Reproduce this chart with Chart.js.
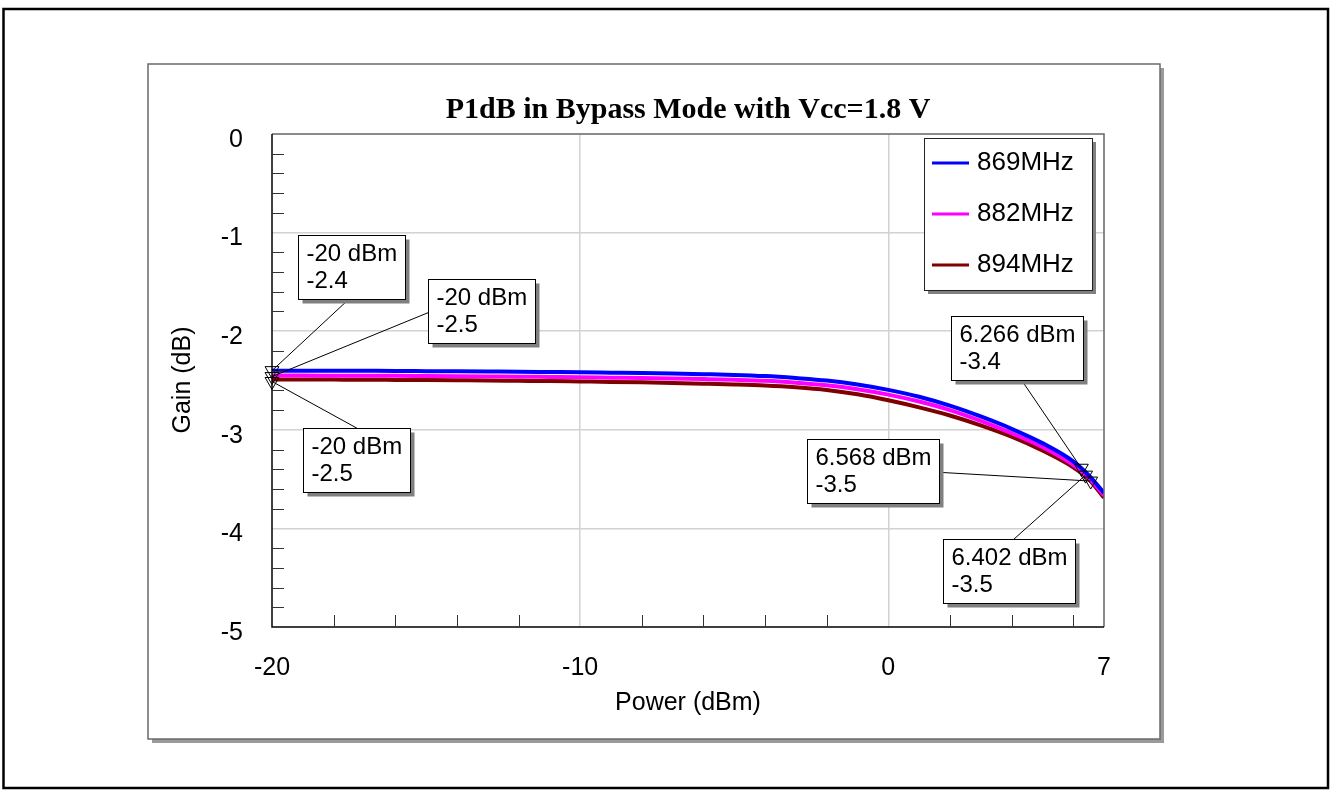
<!DOCTYPE html>
<html>
<head>
<meta charset="utf-8">
<title>P1dB in Bypass Mode with Vcc=1.8 V</title>
<script src="https://cdn.jsdelivr.net/npm/chart.js@4.4.1/dist/chart.umd.min.js"></script>
<style>
    html, body { margin: 0; padding: 0; background: #fff; }
    #gainChart { display: block; }
</style>
</head>
<body>
<canvas id="gainChart" width="1331" height="799"></canvas>
<script>
// Data
const powerDbm = [-20, -19, -18, -17, -16, -15, -14, -13, -12, -11, -10, -9, -8, -7, -6, -5, -4, -3, -2, -1, 0, 1, 2, 3, 4, 5, 6, 6.5, 7];
const gain869 = [-2.400, -2.400, -2.401, -2.402, -2.403, -2.405, -2.407, -2.409, -2.411, -2.414, -2.417, -2.421, -2.425, -2.430, -2.436, -2.443, -2.455, -2.475, -2.500, -2.540, -2.595, -2.665, -2.755, -2.865, -2.990, -3.135, -3.320, -3.460, -3.640];
const gain882 = [-2.450, -2.450, -2.451, -2.452, -2.453, -2.455, -2.457, -2.459, -2.461, -2.464, -2.467, -2.471, -2.475, -2.480, -2.486, -2.493, -2.503, -2.522, -2.548, -2.588, -2.643, -2.713, -2.800, -2.910, -3.035, -3.175, -3.355, -3.485, -3.665];
const gain894 = [-2.490, -2.490, -2.491, -2.492, -2.494, -2.496, -2.498, -2.500, -2.503, -2.506, -2.510, -2.514, -2.519, -2.525, -2.532, -2.540, -2.551, -2.569, -2.596, -2.640, -2.700, -2.772, -2.855, -2.955, -3.070, -3.210, -3.380, -3.500, -3.690];
const seriesLabels = ['869MHz', '882MHz', '894MHz'];
const seriesColors = ['#0000FF', '#FF00FF', '#800000'];

const xTickValues = [-20, -10, 0, 7];
const yTickValues = [-5, -4, -3, -2, -1, 0];

// Marker points (P1dB readouts)
const markerPower = [-20, -20, -20, 6.266, 6.402, 6.568];
const markerGain = [-2.40, -2.46, -2.51, -3.39, -3.46, -3.52];

// Callout box placement relative to each marker (pixels), and leader anchor inside the box
const callouts = [
    { dx: 26, dy: -136, ax: 50, ay: 64 },
    { dx: 156, dy: -98, ax: 0, ay: 33 },
    { dx: 31, dy: 47, ax: 54, ay: 0 },
    { dx: -130, dy: -152, ax: 71, ay: 65 },
    { dx: -143, dy: 64, ax: 70, ay: 0 },
    { dx: -284, dy: -42, ax: 135, ay: 33 }
];

const SANS = 'Arial, "Liberation Sans", sans-serif';
const SERIF = '"Times New Roman", "Liberation Serif", serif';

document.addEventListener('DOMContentLoaded', function() {
    const allGains = [gain869, gain882, gain894];

    const curveSets = allGains.map((g, i) => ({
        label: seriesLabels[i],
        data: powerDbm.map((p, k) => ({ x: p, y: g[k] })),
        borderColor: seriesColors[i],
        borderWidth: 4,
        pointRadius: 0,
        cubicInterpolationMode: 'monotone',
        fill: false,
        order: 1
    }));

    const markerSet = {
        label: 'markers',
        data: markerPower.map((p, k) => ({ x: p, y: markerGain[k] })),
        showLine: false,
        clip: false,
        pointStyle: 'triangle',
        rotation: 180,
        pointRadius: 8,
        pointBorderColor: '#000',
        pointBorderWidth: 1,
        pointBackgroundColor: 'rgba(0,0,0,0)',
        order: 0
    };

    // Frames, titles, borders, minor ticks, legend, callouts
    const decor = {
        id: 'decor',
        beforeDraw(chart) {
            const ctx = chart.ctx;
            const a = chart.chartArea;
            ctx.save();
            ctx.fillStyle = '#fff';
            ctx.fillRect(0, 0, chart.width, chart.height);

            // outer page border
            ctx.strokeStyle = '#000';
            ctx.lineWidth = 2.5;
            ctx.strokeRect(3.5, 9, 1324.5, 779);

            // inner chart box with drop shadow
            ctx.fillStyle = '#9a9a9a';
            ctx.fillRect(152, 68, 1012, 675);
            ctx.fillStyle = '#fff';
            ctx.fillRect(148, 64, 1012, 675);
            ctx.strokeStyle = '#6a6a6a';
            ctx.lineWidth = 1.5;
            ctx.strokeRect(148, 64, 1012, 675);

            // title
            ctx.fillStyle = '#000';
            ctx.font = 'bold 30px ' + SERIF;
            ctx.textAlign = 'center';
            ctx.textBaseline = 'middle';
            ctx.fillText('P1dB in Bypass Mode with Vcc=1.8 V', (a.left + a.right) / 2, 110);

            // axis titles
            ctx.font = '25px ' + SANS;
            ctx.fillText('Power (dBm)', (a.left + a.right) / 2, 703);
            ctx.translate(183, 380);
            ctx.rotate(-Math.PI / 2);
            ctx.fillText('Gain (dB)', 0, 0);
            ctx.restore();
        },
        afterDraw(chart) {
            const ctx = chart.ctx;
            const a = chart.chartArea;
            const xs = chart.scales.x;
            const ys = chart.scales.y;
            ctx.save();

            // plot borders
            ctx.lineWidth = 1.5;
            ctx.strokeStyle = '#666';
            ctx.beginPath();
            ctx.moveTo(a.left, a.top);
            ctx.lineTo(a.right, a.top);
            ctx.lineTo(a.right, a.bottom);
            ctx.stroke();
            ctx.strokeStyle = '#000';
            ctx.beginPath();
            ctx.moveTo(a.left, a.top);
            ctx.lineTo(a.left, a.bottom);
            ctx.lineTo(a.right, a.bottom);
            ctx.stroke();

            // minor ticks, inward
            ctx.lineWidth = 1;
            ctx.strokeStyle = '#333';
            ctx.beginPath();
            for (let v = -4.8; v < -0.1; v += 0.2) {
                if (Math.abs(v - Math.round(v)) < 0.01) continue;
                const py = Math.round(ys.getPixelForValue(v)) + 0.5;
                ctx.moveTo(a.left, py);
                ctx.lineTo(a.left + 12, py);
            }
            for (let v = -18; v <= 6; v += 2) {
                if (v === -10 || v === 0) continue;
                const px = Math.round(xs.getPixelForValue(v)) + 0.5;
                ctx.moveTo(px, a.bottom);
                ctx.lineTo(px, a.bottom - 12);
            }
            ctx.stroke();

            // legend box
            const lw = 168, lh = 152;
            const lx = a.right - 12 - lw, ly = a.top + 4;
            ctx.fillStyle = '#808080';
            ctx.fillRect(lx + 4, ly + 4, lw, lh);
            ctx.fillStyle = '#fff';
            ctx.fillRect(lx, ly, lw, lh);
            ctx.strokeStyle = '#222';
            ctx.lineWidth = 1;
            ctx.strokeRect(lx + 0.5, ly + 0.5, lw, lh);
            ctx.font = '26px ' + SANS;
            ctx.textAlign = 'left';
            ctx.textBaseline = 'middle';
            seriesLabels.forEach((name, i) => {
                const ry = ly + 25 + i * 51;
                ctx.strokeStyle = seriesColors[i];
                ctx.lineWidth = 3;
                ctx.beginPath();
                ctx.moveTo(lx + 8, ry);
                ctx.lineTo(lx + 45, ry);
                ctx.stroke();
                ctx.fillStyle = '#000';
                ctx.fillText(name, lx + 53, ry);
            });

            // callouts: leader line, shadow, box, two text lines
            ctx.font = '24px ' + SANS;
            markerPower.forEach((p, i) => {
                const mx = xs.getPixelForValue(p);
                const my = ys.getPixelForValue(markerGain[i]);
                const c = callouts[i];
                const line1 = p + ' dBm';
                const line2 = markerGain[i].toFixed(1);
                const bw = Math.round(Math.max(ctx.measureText(line1).width, ctx.measureText(line2).width) + 16);
                const bh = 64;
                const bx = Math.round(mx + c.dx) + 0.5;
                const by = Math.round(my + c.dy) + 0.5;

                ctx.strokeStyle = '#000';
                ctx.lineWidth = 1;
                ctx.beginPath();
                ctx.moveTo(mx, my);
                ctx.lineTo(bx + c.ax, by + c.ay);
                ctx.stroke();

                ctx.fillStyle = '#808080';
                ctx.fillRect(bx + 4, by + 4, bw, bh);
                ctx.fillStyle = '#fff';
                ctx.fillRect(bx, by, bw, bh);
                ctx.strokeStyle = '#000';
                ctx.strokeRect(bx, by, bw, bh);

                ctx.fillStyle = '#000';
                ctx.fillText(line1, bx + 8, by + 19);
                ctx.fillText(line2, bx + 8, by + 46);
            });
            ctx.restore();
        }
    };

    const tickFont = { family: SANS, size: 25 };

    new Chart(document.getElementById('gainChart').getContext('2d'), {
        type: 'line',
        data: { datasets: curveSets.concat([markerSet]) },
        options: {
            responsive: false,
            animation: false,
            events: [],
            layout: { padding: { left: 148, right: 227, top: 134, bottom: 62 } },
            plugins: {
                legend: { display: false },
                title: { display: false },
                tooltip: { enabled: false }
            },
            scales: {
                x: {
                    type: 'linear',
                    min: -20,
                    max: 7,
                    afterBuildTicks: (scale) => {
                        scale.ticks = xTickValues.map(v => ({ value: v }));
                    },
                    afterFit: (scale) => { scale.height = 110; },
                    border: { display: false },
                    grid: {
                        drawTicks: false,
                        color: (c) => (c.tick && c.tick.value > -20 && c.tick.value < 7) ? '#d2d2d2' : 'rgba(0,0,0,0)',
                        lineWidth: 1.5
                    },
                    ticks: {
                        color: '#000',
                        font: tickFont,
                        padding: 26,
                        maxRotation: 0,
                        autoSkip: false,
                        callback: (v) => String(v)
                    }
                },
                y: {
                    type: 'linear',
                    min: -5,
                    max: 0,
                    afterBuildTicks: (scale) => {
                        scale.ticks = yTickValues.map(v => ({ value: v }));
                    },
                    afterFit: (scale) => { scale.width = 124; },
                    border: { display: false },
                    grid: {
                        drawTicks: false,
                        color: (c) => (c.tick && c.tick.value > -5 && c.tick.value < 0) ? '#d2d2d2' : 'rgba(0,0,0,0)',
                        lineWidth: 1.5
                    },
                    ticks: {
                        color: '#000',
                        font: tickFont,
                        padding: 29,
                        labelOffset: 6,
                        autoSkip: false,
                        callback: (v) => String(v)
                    }
                }
            }
        },
        plugins: [decor]
    });
});
</script>
</body>
</html>
